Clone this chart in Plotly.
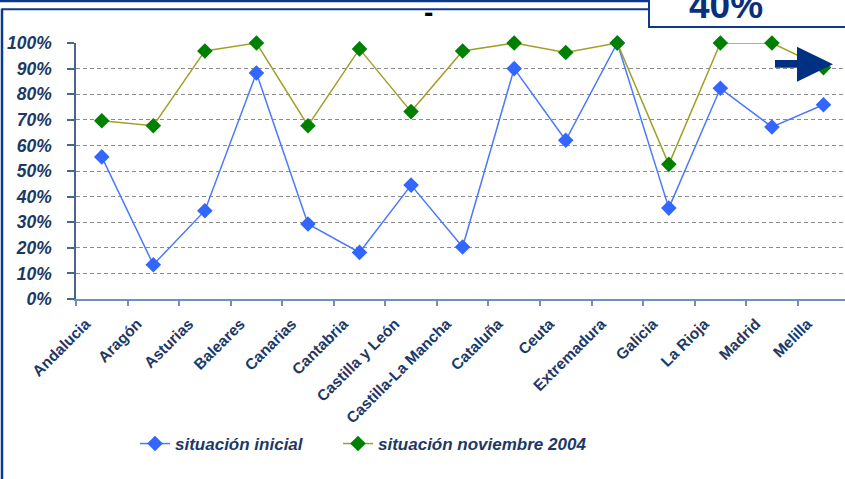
import plotly.graph_objects as go

categories = ["Andalucia", "Aragón", "Asturias", "Baleares", "Canarias", "Cantabria",
              "Castilla y León", "Castilla-La Mancha", "Cataluña", "Ceuta", "Extremadura",
              "Galicia", "La Rioja", "Madrid", "Melilla"]
situacion_inicial = [0.555, 0.134, 0.345, 0.883, 0.293, 0.182, 0.445, 0.203, 0.90, 0.62,
                     1.00, 0.355, 0.823, 0.672, 0.759]
situacion_nov_2004 = [0.696, 0.677, 0.969, 1.00, 0.677, 0.977, 0.732, 0.969, 1.00, 0.963,
                      1.00, 0.526, 1.00, 1.00, 0.904]
series_names = ["situación inicial", "situación noviembre 2004"]
box_text = "40%"

W, H = 845, 479
L, R, T, B = 76, 0, 43, 180
PW, PH = W - L - R, H - T - B
step = 51.55

def px(x):
    return (x - L) / PW

def py(y):
    return (T + PH - y) / PH

FONT = "Liberation Sans, Arial, sans-serif"
NAVY_TXT = "#1c3966"
NAVY = "#0b3a8c"

fig = go.Figure()
fig.add_trace(go.Scatter(
    x=categories, y=situacion_inicial, name=series_names[0], mode="lines+markers",
    line=dict(color="#4a78ff", width=1.5),
    marker=dict(symbol="diamond", size=12, color="#3366ff"),
    cliponaxis=False, legend="legend"))
fig.add_trace(go.Scatter(
    x=categories, y=situacion_nov_2004, name=series_names[1], mode="lines+markers",
    line=dict(color="#a0a028", width=1.5),
    marker=dict(symbol="diamond", size=12, color="#008000"),
    cliponaxis=False, legend="legend2"))

shapes = []
# top bands of the slide frame
shapes.append(dict(type="rect", xref="paper", yref="paper", x0=px(-2), x1=px(652),
                   y0=py(2.3), y1=py(-2), fillcolor=NAVY, line=dict(width=0), layer="above"))
shapes.append(dict(type="line", xref="paper", yref="paper", x0=px(2), x1=px(652),
                   y0=py(9.3), y1=py(9.3), line=dict(color=NAVY, width=2), layer="above"))
shapes.append(dict(type="line", xref="paper", yref="paper", x0=px(2), x1=px(2),
                   y0=py(8.5), y1=py(485), line=dict(color=NAVY, width=2.5), layer="above"))
# 40% box
shapes.append(dict(type="rect", xref="paper", yref="paper", x0=px(649), x1=px(860),
                   y0=py(27), y1=py(-10), fillcolor="white", line=dict(color=NAVY, width=2),
                   layer="above"))
# arrow
pts = [(775, 60), (797, 60), (797, 46.7), (833, 64.3), (797, 81.7), (797, 67.7), (775, 67.7)]
path = "M " + " L ".join(f"{px(a):.5f},{py(b):.5f}" for a, b in pts) + " Z"
shapes.append(dict(type="path", xref="paper", yref="paper", path=path,
                   fillcolor="#003082", line=dict(width=0), layer="above"))

annotations = [
    dict(text=box_text, xref="paper", yref="paper", x=px(725.5), y=py(5), showarrow=False,
         xanchor="center", yanchor="middle",
         font=dict(family=FONT, size=37, color="#0a2f7f", weight="bold")),
    dict(text="-", xref="paper", yref="paper", x=px(428), y=py(12.5), showarrow=False,
         xanchor="center", yanchor="middle",
         font=dict(family=FONT, size=28, color="black", weight="bold")),
]

legend_font = dict(family=FONT, size=17, color=NAVY_TXT, weight="bold", style="italic")

fig.update_layout(
    width=W, height=H,
    margin=dict(l=L, r=R, t=T, b=B, pad=0),
    paper_bgcolor="white", plot_bgcolor="white",
    showlegend=True,
    legend=dict(orientation="h", xref="paper", yref="paper", x=px(135), y=py(444),
                xanchor="left", yanchor="middle", font=legend_font,
                bgcolor="rgba(0,0,0,0)"),
    legend2=dict(orientation="h", xref="paper", yref="paper", x=px(338), y=py(444),
                 xanchor="left", yanchor="middle", font=legend_font,
                 bgcolor="rgba(0,0,0,0)"),
    shapes=shapes, annotations=annotations,
    xaxis=dict(type="category", range=[-0.5, -0.5 + PW / step], tickson="boundaries",
               ticks="outside", ticklen=5, tickcolor="#7090b8", tickwidth=1.5,
               showline=True, linecolor="#7090b8", linewidth=1.5, showgrid=False,
               tickangle=-45, zeroline=False, ticklabelstandoff=8, ticklabelshift=-16,
               tickfont=dict(family=FONT, size=15.5, color=NAVY_TXT, weight="bold")),
    yaxis=dict(range=[0, 1], dtick=0.1, tickformat=".0%", ticks="outside", ticklen=7,
               tickcolor="#466890", tickwidth=1.5, showline=True, linecolor="#466890",
               linewidth=1.5, showgrid=True, gridcolor="#8c8c8c", gridwidth=1.3,
               griddash="4px,3px", zeroline=False, ticklabelstandoff=12,
               tickfont=dict(family=FONT, size=17.5, color=NAVY_TXT, weight="bold",
                             style="italic")),
)

fig.write_html("out.html", config={"displayModeBar": False},
               post_script="document.body.style.margin='0px';")
